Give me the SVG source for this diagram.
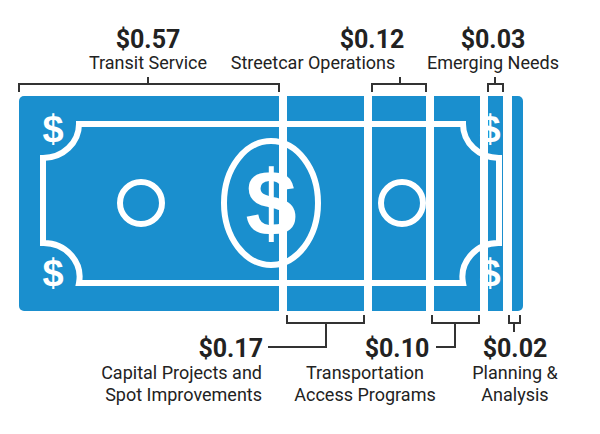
<svg xmlns="http://www.w3.org/2000/svg" width="600" height="434" viewBox="0 0 600 434">
<style>
.w{fill:none;stroke:#fff;stroke-width:6}
.br{fill:none;stroke:#333;stroke-width:2}
.amt{font-family:Roboto,"Liberation Sans",sans-serif;font-weight:bold;font-size:25px;fill:#222}
.lbl{font-family:Roboto,"Liberation Sans",sans-serif;font-size:18px;fill:#222}
.ds{font-family:"Liberation Sans",sans-serif;font-weight:bold;fill:#fff;text-anchor:middle}
</style>
<rect width="600" height="434" fill="#fff"/>
<g id="bill">
<rect x="19" y="96" width="504" height="215" rx="5" fill="#1a8fce"/>
<path class="w" d="M79 124 H463 A36 34 0 0 0 499 158 V243 A36 34 0 0 0 463 283 H79 A36 34 0 0 0 43 243 V158 A36 34 0 0 0 79 124 Z"/>
<circle class="w" cx="141" cy="203" r="21"/>
<circle class="w" cx="402" cy="203" r="21"/>
<ellipse class="w" cx="271" cy="203" rx="47" ry="62"/>
<text class="ds" x="271" y="235" font-size="92">$</text>
<text class="ds" x="53" y="142" font-size="38">$</text>
<text class="ds" x="53" y="286" font-size="38">$</text>
<text class="ds" x="490" y="142" font-size="38">$</text>
<text class="ds" x="490" y="286" font-size="38">$</text>
<g fill="#fff">
<rect x="279" y="90" width="8" height="225"/>
<rect x="364" y="90" width="8" height="225"/>
<rect x="426" y="90" width="8" height="225"/>
<rect x="480" y="90" width="8" height="225"/>
<rect x="503" y="90" width="9" height="225"/>
</g>
</g>
<g id="connectors">
<path class="br" d="M19 92 V84 H279 V92 M148 84 V77"/>
<path class="br" d="M372 92 V84 H426 V92 M400 84 V77"/>
<path class="br" d="M488 92 V84 H503 V92 M495 84 V77"/>
<path class="br" d="M287 315 V323 H364 V315 M326 323 V347 H268"/>
<path class="br" d="M432 315 V323 H479 V315 M455 323 V347 H436"/>
<path class="br" d="M509 315 V323 H520 V315 M514 323 V332"/>
</g>
<g id="l1"><text class="amt" x="148" y="48" text-anchor="middle">$0.57</text><text class="lbl" x="148" y="69" text-anchor="middle">Transit Service</text></g>
<g id="l2"><text class="amt" x="372" y="48" text-anchor="middle">$0.12</text><text class="lbl" x="313" y="69" text-anchor="middle">Streetcar Operations</text></g>
<g id="l3"><text class="amt" x="493" y="48" text-anchor="middle">$0.03</text><text class="lbl" x="493" y="69" text-anchor="middle">Emerging Needs</text></g>
<g id="l4"><text class="amt" x="263" y="357" text-anchor="end">$0.17</text><text class="lbl" x="262" y="379" text-anchor="end">Capital Projects and</text><text class="lbl" x="262" y="401" text-anchor="end">Spot Improvements</text></g>
<g id="l5"><text class="amt" x="397" y="357" text-anchor="middle">$0.10</text><text class="lbl" x="365" y="379" text-anchor="middle">Transportation</text><text class="lbl" x="365" y="401" text-anchor="middle">Access Programs</text></g>
<g id="l6"><text class="amt" x="515" y="357" text-anchor="middle">$0.02</text><text class="lbl" x="515" y="379" text-anchor="middle">Planning &amp;</text><text class="lbl" x="515" y="401" text-anchor="middle">Analysis</text></g>
</svg>
